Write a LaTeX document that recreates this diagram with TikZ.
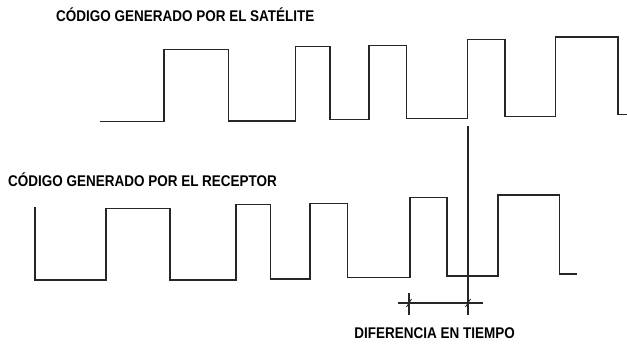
\documentclass[tikz,border=0pt]{standalone}
\usepackage{fontspec}
\newfontfamily\lblfont[FakeStretch=0.87]{Liberation Sans}
\begin{document}
\begin{tikzpicture}[x=1pt,y=-1pt,
  wave/.style={line width=1.2pt,line join=miter,color=black!85},
  dim/.style={line width=1.1pt,color=black!85},
  lbl/.style={inner sep=0pt,font=\lblfont\bfseries\fontsize{15.5}{16}\selectfont}]
\useasboundingbox (0,0) rectangle (627,344);
% labels
\node[lbl,anchor=west] (lsat) at (56,15) {CÓDIGO GENERADO POR EL SATÉLITE};
\node[lbl,anchor=west] (lrec) at (8,180) {CÓDIGO GENERADO POR EL RECEPTOR};
\node[lbl,anchor=east] (ldif) at (515,333) {DIFERENCIA EN TIEMPO};
% satellite code
\draw[wave] (100,121.5) -- (164,121.5) -- (164,49.5) -- (228.5,49.5) -- (228.5,121)
  -- (295.5,121) -- (295.5,46.5) -- (330,46.5) -- (330,119.5) -- (369,119.5)
  -- (369,45.5) -- (406.5,45.5) -- (406.5,118.3) -- (467.5,118.3) -- (467.5,39.7)
  -- (505,39.7) -- (505,116.7) -- (555.7,116.7) -- (555.7,37) -- (618,37)
  -- (618,114.3) -- (627,114.3);
% receiver code
\draw[wave] (35,207.3) -- (35,280) -- (106,280) -- (106,208.3) -- (170,208.3)
  -- (170,280) -- (236,280) -- (236,204.3) -- (270.7,204.3) -- (270.7,279)
  -- (310,279) -- (310,203.3) -- (347.7,203.3) -- (347.7,277.7) -- (410,277.7)
  -- (410,197.3) -- (447,197.3) -- (447,276) -- (498,276) -- (498,195)
  -- (559.3,195) -- (559.3,274) -- (577,274);
% time difference
\coordinate (vtop) at (468,126);
\coordinate (vbot) at (468,315);
\coordinate (ttop) at (409,293);
\coordinate (tbot) at (409,315);
\coordinate (dl) at (398,303);
\coordinate (dr) at (482.5,303);
\draw[dim] (vtop) -- (vbot);
\draw[dim] (ttop) -- (tbot);
\draw[dim] (dl) -- (dr);
\draw[dim,line width=0.8pt] ([shift={(-2.5,4)}]409,303) -- ([shift={(2.5,-4)}]409,303);
\draw[dim,line width=0.8pt] ([shift={(-2.5,4)}]468,303) -- ([shift={(2.5,-4)}]468,303);
\end{tikzpicture}
\end{document}
